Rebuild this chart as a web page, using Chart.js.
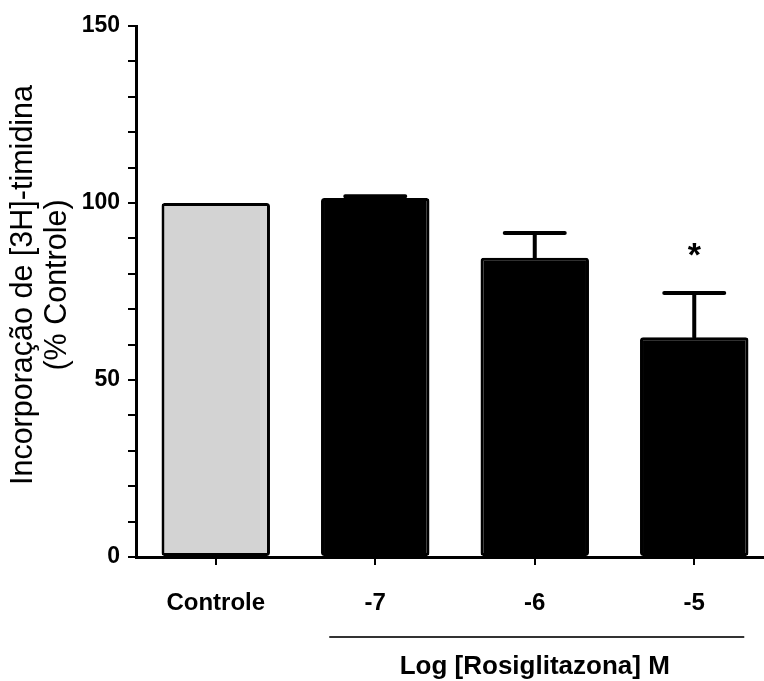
<!DOCTYPE html>
<html>
<head>
<meta charset="utf-8">
<script src="https://cdn.jsdelivr.net/npm/chart.js@4/dist/chart.umd.min.js"></script>
<style>
  body { margin: 0; overflow: hidden; background: #fff; }
  #wrap { width: 775px; height: 681px; }
</style>
</head>
<body>
<div id="wrap"><canvas id="graph" width="775" height="681"></canvas></div>
<script>
// data
const labels = ['Controle', '-7', '-6', '-5'];
const means = [100, 101.4, 84.5, 62.1];
const sems = [0, 0.5, 7.0, 12.5];
const signif = ['', '', '', '*'];
const barColors = ['#d3d3d3', '#000000', '#000000', '#000000'];

const yTitle = ['Incorporação de [3H]-timidina', '(% Controle)'];
const groupTitle = 'Log [Rosiglitazona] M';
const groupFrom = 1, groupTo = 3;

const extras = {
    id: 'extras',
    afterDatasetsDraw(chart) {
        const ctx = chart.ctx;
        const x = chart.scales.x, y = chart.scales.y;
        ctx.save();
        ctx.strokeStyle = '#000';
        ctx.fillStyle = '#000';
        ctx.lineWidth = 4;
        ctx.lineCap = 'round';
        for (let i = 0; i < means.length; i++) {
            const cx = x.getPixelForValue(i);
            const top = means[i] + sems[i];
            if (sems[i] > 0) {
                const y0 = y.getPixelForValue(means[i]);
                const y1 = y.getPixelForValue(top);
                ctx.beginPath();
                ctx.moveTo(cx, y0);
                ctx.lineTo(cx, y1);
                ctx.moveTo(cx - 30, y1);
                ctx.lineTo(cx + 30, y1);
                ctx.stroke();
            }
            if (signif[i]) {
                ctx.font = 'bold 34px "Liberation Sans", Arial, sans-serif';
                ctx.textAlign = 'center';
                ctx.textBaseline = 'middle';
                ctx.fillText(signif[i], cx, y.getPixelForValue(top) - 36);
            }
        }
        ctx.restore();
    },
    afterDraw(chart) {
        const ctx = chart.ctx;
        const x = chart.scales.x;
        ctx.save();
        // y axis title
        ctx.fillStyle = '#000';
        ctx.font = '30.5px "Liberation Sans", Arial, sans-serif';
        ctx.textAlign = 'center';
        ctx.textBaseline = 'middle';
        ctx.translate(0, 285);
        ctx.rotate(-Math.PI / 2);
        ctx.fillText(yTitle[0], 0, 24);
        ctx.fillText(yTitle[1], 0, 58);
        ctx.restore();

        // group bracket under the doses
        ctx.save();
        const x0 = x.getPixelForValue(groupFrom) - 46;
        const x1 = x.getPixelForValue(groupTo) + 50;
        ctx.strokeStyle = '#333';
        ctx.lineWidth = 2;
        ctx.beginPath();
        ctx.moveTo(x0, 637);
        ctx.lineTo(x1, 637);
        ctx.stroke();
        ctx.fillStyle = '#000';
        ctx.font = 'bold 26px "Liberation Sans", Arial, sans-serif';
        ctx.textAlign = 'center';
        ctx.textBaseline = 'middle';
        ctx.fillText(groupTitle, (x.getPixelForValue(groupFrom) + x.getPixelForValue(groupTo)) / 2, 667);
        ctx.restore();
    }
};

const chart = new Chart(document.getElementById('graph'), {
    type: 'bar',
    data: {
        labels: labels,
        datasets: [{
            data: means,
            backgroundColor: barColors,
            borderColor: '#000',
            borderWidth: 3,
            borderRadius: 3,
            borderSkipped: false,
            barPercentage: 0.68,
            categoryPercentage: 1
        }]
    },
    options: {
        responsive: false,
        animation: false,
        layout: { padding: { top: 26, right: 1, left: 0, bottom: 0 } },
        plugins: { legend: { display: false }, tooltip: { enabled: false } },
        scales: {
            x: {
                offset: true,
                grid: { offset: false, drawOnChartArea: false, color: '#000', lineWidth: 2, tickLength: 8 },
                border: { display: true, color: '#000', width: 3 },
                ticks: {
                    color: '#000',
                    padding: 24,
                    maxRotation: 0,
                    font: { family: '"Liberation Sans", Arial, sans-serif', size: 24, weight: 'bold' }
                },
                afterFit(s) { s.height = 124; }
            },
            y: {
                min: 0,
                max: 150,
                grid: { drawOnChartArea: false, color: '#000', lineWidth: 2, tickLength: 8 },
                border: { display: true, color: '#000', width: 3 },
                ticks: {
                    stepSize: 10,
                    color: '#000',
                    padding: 8,
                    font: { family: '"Liberation Sans Narrow", "Liberation Sans", Arial, sans-serif', size: 23, weight: 'bold' },
                    callback: (v) => (v % 50 === 0 ? v : '')
                },
                afterFit(s) { s.width = 136; }
            }
        }
    },
    plugins: [extras]
});
</script>
</body>
</html>
